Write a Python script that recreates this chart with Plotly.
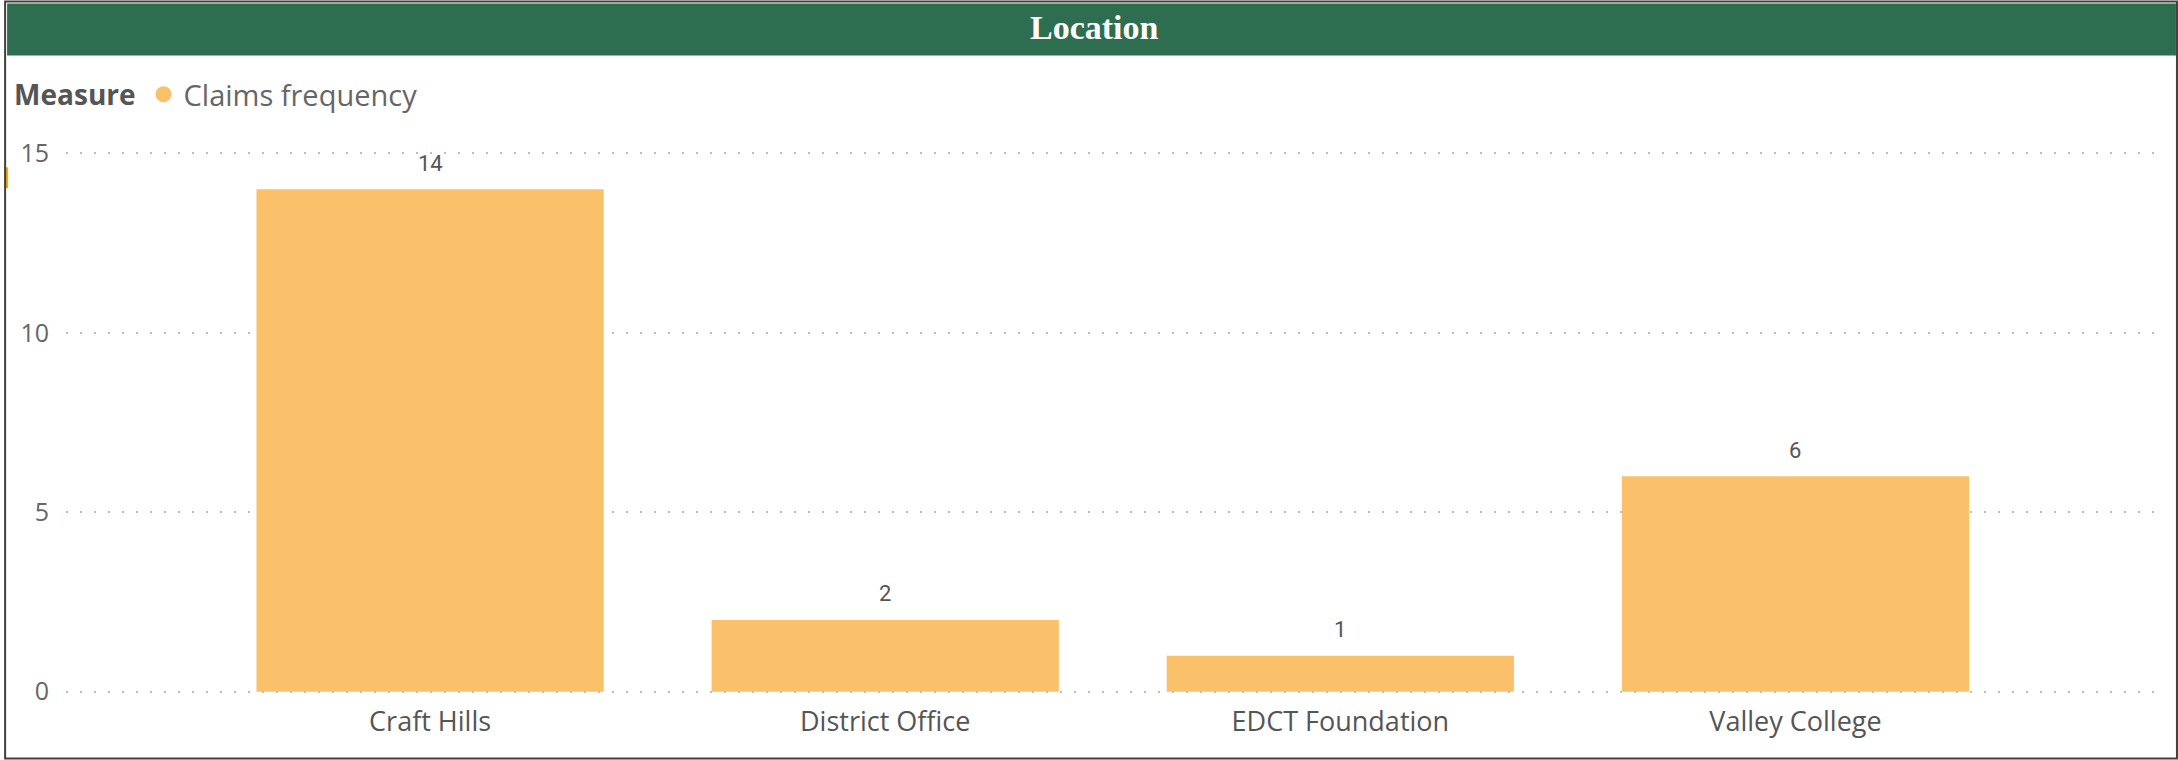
import plotly.graph_objects as go

categories = ["Craft Hills", "District Office", "EDCT Foundation", "Valley College"]
claims_frequency = [14, 2, 1, 6]
y_ticks = [0, 5, 10, 15]
series_name = "Claims frequency"
legend_title = "Measure"
chart_title = "Location"

W, H = 2178, 760
Y0_PX, Y15_PX = 692, 153          # pixel rows of value 0 and 15
PAD = 0.12                         # value padding so edge gridlines render
UNIT = (Y0_PX - Y15_PX) / 15.0
L, R = 62, 2155
T = Y15_PX - PAD * UNIT
B = Y0_PX + PAD * UNIT

def px_x(x):
    return (x - L) / (R - L)

def px_y(y):
    return (B - y) / (B - T)

BAR = "#FBC16A"
GREEN = "#2D6E50"

fig = go.Figure()
fig.add_trace(go.Bar(
    x=categories, y=claims_frequency, name=series_name,
    marker=dict(color=BAR, line=dict(width=0)),
    showlegend=False, width=0.763, hoverinfo="x+y",
))
fig.add_trace(go.Scatter(
    x=[None], y=[None], mode="markers", name=series_name,
    marker=dict(symbol="circle", size=21, color=BAR),
))

annotations = [
    dict(x=c, y=v, xref="x", yref="y", text=str(v), showarrow=False,
         xanchor="center", yanchor="middle", yshift=26,
         font=dict(family="Roboto, DejaVu Sans Condensed", size=22, color="#555555"))
    for c, v in zip(categories, claims_frequency)
]
annotations.append(
    dict(text="<b>%s</b>" % chart_title, xref="paper", yref="paper",
         x=px_x(1092), y=px_y(27), xanchor="center", yanchor="middle",
         showarrow=False,
         font=dict(family="Liberation Serif, DejaVu Serif, serif", size=34, color="white"))
)

fig.update_layout(
    width=W, height=H,
    margin=dict(l=L, r=W - R, t=T, b=H - B, pad=0),
    paper_bgcolor="white", plot_bgcolor="white",
    font=dict(family="Open Sans, Noto Sans, sans-serif", color="#666666"),
    bargap=0.237,
    legend=dict(
        orientation="h", x=px_x(8), xanchor="left", y=px_y(94), yanchor="middle",
        title=dict(text="<b>%s</b>" % legend_title, font=dict(size=28, color="#555555")),
        font=dict(size=29, color="#666666"), itemwidth=30, tracegroupgap=0,
        bgcolor="rgba(0,0,0,0)",
    ),
    xaxis=dict(
        type="category", range=[-0.80, 3.79], showgrid=False, zeroline=False,
        showline=False, ticks="", tickfont=dict(size=27, color="#555555"),
        ticklabelstandoff=7, fixedrange=True,
    ),
    yaxis=dict(
        range=[-PAD, 15 + PAD], tickvals=y_ticks, showgrid=True, gridcolor="#BDBDBD",
        griddash="2px,12px", gridwidth=2, zeroline=False, showline=False, ticks="",
        tickfont=dict(size=25, color="#666666"), ticklabelstandoff=16,
    ),
    shapes=[
        dict(type="rect", xref="paper", yref="paper",
             x0=px_x(3), x1=px_x(2176), y0=px_y(55), y1=px_y(3),
             fillcolor=GREEN, line=dict(width=0), layer="below"),
        dict(type="rect", xref="paper", yref="paper",
             x0=px_x(0), x1=px_x(4), y0=px_y(188), y1=px_y(167),
             fillcolor="#F2A900", line=dict(width=0)),
        dict(type="rect", xref="paper", yref="paper",
             x0=px_x(1), x1=px_x(2177), y0=px_y(759), y1=px_y(1),
             fillcolor="rgba(0,0,0,0)", line=dict(width=2, color="#404040")),
    ],
    annotations=annotations,
)

fig.write_html(
    "out.html",
    config={"displayModeBar": False},
    post_script="document.body.style.margin='0';document.body.style.overflow='hidden';",
)
